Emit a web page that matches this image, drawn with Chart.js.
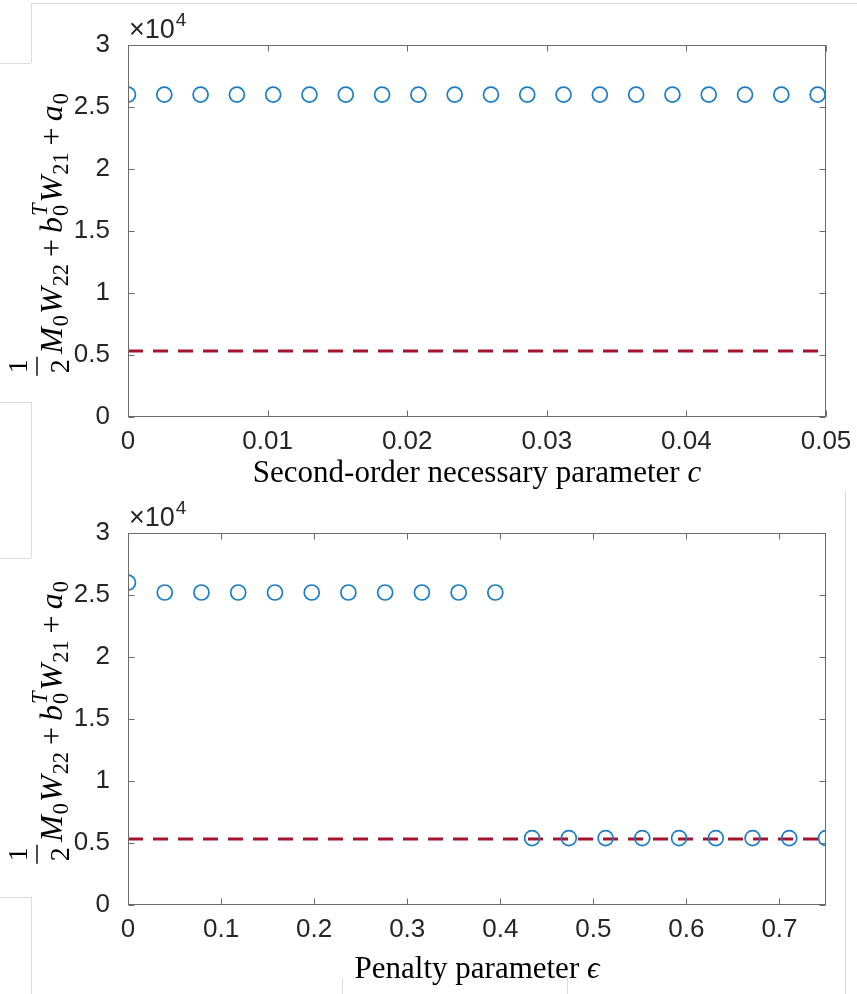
<!DOCTYPE html>
<html>
<head>
<meta charset="utf-8">
<script src="https://cdn.jsdelivr.net/npm/chart.js@4.4.1/dist/chart.umd.min.js"></script>
<style>
  body { margin: 0; background: #fff; }
  #wrap { position: relative; width: 857px; height: 994px; overflow: hidden; }
  .pane { position: absolute; left: 0; width: 857px; height: 497px; }
  .ln { position: absolute; background: #dcdcdc; }
</style>
</head>
<body>
<div id="wrap">
  <!-- faint leftover edges of the screenshot -->
  <div class="ln" style="left:31px;top:3px;width:826px;height:1px"></div>
  <div class="ln" style="left:31px;top:3px;width:1px;height:60px"></div>
  <div class="ln" style="left:0;top:63px;width:31px;height:1px"></div>
  <div class="ln" style="left:0;top:402px;width:31px;height:1px"></div>
  <div class="ln" style="left:31px;top:402px;width:1px;height:156px"></div>
  <div class="ln" style="left:0;top:558px;width:31px;height:1px"></div>
  <div class="ln" style="left:0;top:897px;width:31px;height:1px"></div>
  <div class="ln" style="left:31px;top:897px;width:1px;height:97px"></div>
  <div class="ln" style="left:845px;top:490px;width:1px;height:504px"></div>
  <div class="ln" style="left:342px;top:978px;width:1px;height:16px"></div>
  <div class="ln" style="left:567px;top:978px;width:1px;height:16px"></div>
  <div class="pane" style="top:0"><canvas id="top"></canvas></div>
  <div class="pane" style="top:497px"><canvas id="bottom"></canvas></div>
</div>
<script>
// second-order necessary parameter c (top)
const cValues = [0, 0.0026, 0.0052, 0.0078, 0.0104, 0.013, 0.0156, 0.0182, 0.0208, 0.0234,
                 0.026, 0.0286, 0.0312, 0.0338, 0.0364, 0.039, 0.0416, 0.0442, 0.0468, 0.0494];
const cObjective = [26000, 26000, 26000, 26000, 26000, 26000, 26000, 26000, 26000, 26000,
                    26000, 26000, 26000, 26000, 26000, 26000, 26000, 26000, 26000, 26000];

// penalty parameter epsilon (bottom)
const epsValues = [0, 0.0395, 0.0789, 0.1184, 0.1579, 0.1974, 0.2368, 0.2763, 0.3158, 0.3553,
                   0.3947, 0.4342, 0.4737, 0.5132, 0.5526, 0.5921, 0.6316, 0.6711, 0.7105, 0.75];
const epsObjective = [26000, 25200, 25200, 25200, 25200, 25200, 25200, 25200, 25200, 25200,
                      25200, 5400, 5400, 5400, 5400, 5400, 5400, 5400, 5400, 5400];

// dashed reference level
const refLevel = 5320;

const yTicks = [0, 5000, 10000, 15000, 20000, 25000, 30000];

const tickFont = { family: 'Liberation Sans, Arial, sans-serif', size: 26 };
const serif = '"Liberation Serif", "Times New Roman", serif';

function drawYTitle(ctx, a) {
  const S = 32;
  const baseX = 62;
  const parts = [
    { t: 'M', it: true }, { t: '0', sub: true },
    { t: 'W', it: true }, { t: '22', sub: true },
    { t: '+', op: true },
    { t: 'b', it: true }, { t: '0', sub: true, sup: 'T' },
    { t: 'W', it: true }, { t: '21', sub: true },
    { t: '+', op: true },
    { t: 'a', it: true }, { t: '0', sub: true }
  ];
  const fracW = 19;
  ctx.save();
  // measure the whole expression so it can be centred on the axes
  let total = fracW + 3;
  parts.forEach(p => {
    if (p.sub) {
      ctx.font = (S * 0.7) + 'px ' + serif;
      let w = ctx.measureText(p.t).width;
      if (p.sup) { ctx.font = 'italic ' + (S * 0.7) + 'px ' + serif; w = Math.max(w, ctx.measureText(p.sup).width); }
      p.w = w + 1;
    } else if (p.op) {
      ctx.font = S + 'px ' + serif;
      p.w = ctx.measureText(p.t).width + 12;
    } else {
      ctx.font = 'italic ' + S + 'px ' + serif;
      p.w = ctx.measureText(p.t).width + 1;
    }
    total += p.w;
  });
  const cy = (a.top + a.bottom) / 2 + 3;
  ctx.translate(baseX, cy + total / 2);
  ctx.rotate(-Math.PI / 2);
  ctx.fillStyle = '#000';
  ctx.strokeStyle = '#000';
  let x = 0;
  // fraction 1/2
  ctx.font = '28px ' + serif;
  ctx.textAlign = 'center';
  ctx.fillText('1', x + fracW / 2, -35);
  ctx.fillText('2', x + fracW / 2, 7);
  ctx.lineWidth = 1.4;
  ctx.beginPath(); ctx.moveTo(x, -25); ctx.lineTo(x + fracW, -25); ctx.stroke();
  ctx.textAlign = 'left';
  x += fracW + 3;
  parts.forEach(p => {
    if (p.sub) {
      ctx.font = (S * 0.7) + 'px ' + serif;
      ctx.fillText(p.t, x, 6);
      if (p.sup) {
        ctx.font = 'italic ' + (S * 0.7) + 'px ' + serif;
        ctx.fillText(p.sup, x, -15);
      }
    } else if (p.op) {
      ctx.font = S + 'px ' + serif;
      ctx.fillText(p.t, x + 6, 0);
    } else {
      ctx.font = 'italic ' + S + 'px ' + serif;
      ctx.fillText(p.t, x, 0);
    }
    x += p.w;
  });
  ctx.restore();
}

const matlabAxes = {
  id: 'matlabAxes',
  afterDraw(chart, args, opts) {
    const { ctx, chartArea: a, scales: { x, y } } = chart;
    ctx.save();
    ctx.strokeStyle = '#6b6b6b';
    ctx.lineWidth = 1;
    const L = Math.round(a.left) + 0.5, R = Math.round(a.right) - 0.5;
    const T = Math.round(a.top) + 0.5, B = Math.round(a.bottom) - 0.5;
    ctx.strokeRect(L, T, R - L, B - T);
    ctx.beginPath();
    x.ticks.forEach(t => {
      const px = Math.round(x.getPixelForValue(t.value)) + 0.5;
      ctx.moveTo(px, B); ctx.lineTo(px, B - 6);
      ctx.moveTo(px, T); ctx.lineTo(px, T + 6);
    });
    y.ticks.forEach(t => {
      const py = Math.round(y.getPixelForValue(t.value)) + 0.5;
      ctx.moveTo(L, py); ctx.lineTo(L + 6, py);
      ctx.moveTo(R, py); ctx.lineTo(R - 6, py);
    });
    ctx.stroke();

    // exponent label
    ctx.fillStyle = '#262626';
    ctx.font = '27px ' + tickFont.family;
    ctx.textBaseline = 'alphabetic';
    ctx.fillText('\u00d710', a.left + 1, a.top - 7);
    const w = ctx.measureText('\u00d710').width;
    ctx.font = '19px ' + tickFont.family;
    ctx.fillText('4', a.left + 1 + w + 1, a.top - 19);

    // x title with italic symbol
    ctx.fillStyle = '#000';
    ctx.font = '31px ' + serif;
    const w1 = ctx.measureText(opts.xTitle).width;
    ctx.font = 'italic 31px ' + serif;
    const w2 = ctx.measureText(opts.xSym).width;
    const sx = (a.left + a.right) / 2 - (w1 + w2) / 2;
    ctx.font = '31px ' + serif;
    ctx.fillText(opts.xTitle, sx, opts.xTitleY);
    ctx.font = 'italic 31px ' + serif;
    ctx.fillText(opts.xSym, sx + w1, opts.xTitleY);

    drawYTitle(ctx, a);
    ctx.restore();
  }
};

function makeChart(id, xs, ys, xMax, xStep, xDigits, padTop, xAxisH, xTitle, xSym, xTitleY) {
  const pts = xs.map((v, i) => ({ x: v, y: ys[i] }));
  return new Chart(document.getElementById(id), {
    type: 'scatter',
    data: {
      datasets: [{
        label: 'objective',
        data: pts,
        showLine: false,
        pointStyle: 'circle',
        pointRadius: 7.5,
        pointBorderWidth: 1.7,
        pointBorderColor: '#1a7cc4',
        pointBackgroundColor: 'rgba(0,0,0,0)',
        order: 1
      }, {
        label: 'reference',
        data: [{ x: 0, y: refLevel }, { x: xMax, y: refLevel }],
        showLine: true,
        borderColor: '#A2142F',
        borderWidth: 3,
        borderDash: [15, 10],
        pointRadius: 0,
        order: 2
      }]
    },
    options: {
      responsive: true,
      maintainAspectRatio: false,
      animation: false,
      events: [],
      layout: { padding: { top: padTop, right: 31, left: 0, bottom: 0 } },
      plugins: {
        legend: { display: false },
        tooltip: { enabled: false },
        matlabAxes: { xTitle: xTitle, xSym: xSym, xTitleY: xTitleY }
      },
      scales: {
        x: {
          type: 'linear', min: 0, max: xMax,
          grid: { display: false }, border: { display: false },
          ticks: {
            stepSize: xStep, includeBounds: false, padding: 1,
            font: tickFont, color: '#262626', maxRotation: 0,
            callback: v => Number(v.toFixed(xDigits)).toString()
          },
          afterFit: s => { s.height = xAxisH; }
        },
        y: {
          type: 'linear', min: 0, max: 30000,
          grid: { display: false }, border: { display: false },
          afterBuildTicks: s => { s.ticks = yTicks.map(v => ({ value: v })); },
          ticks: {
            padding: 10, font: tickFont, color: '#262626',
            callback: v => (v / 10000).toString()
          },
          afterFit: s => { s.width = 128; }
        }
      }
    },
    plugins: [matlabAxes]
  });
}

makeChart('top', cValues, cObjective, 0.05, 0.01, 2, 45, 80,
  'Second-order necessary parameter ', 'c', 482);
makeChart('bottom', epsValues, epsObjective, 0.75, 0.1, 1, 36, 89,
  'Penalty parameter ', '\u03f5', 481);
</script>
</body>
</html>
